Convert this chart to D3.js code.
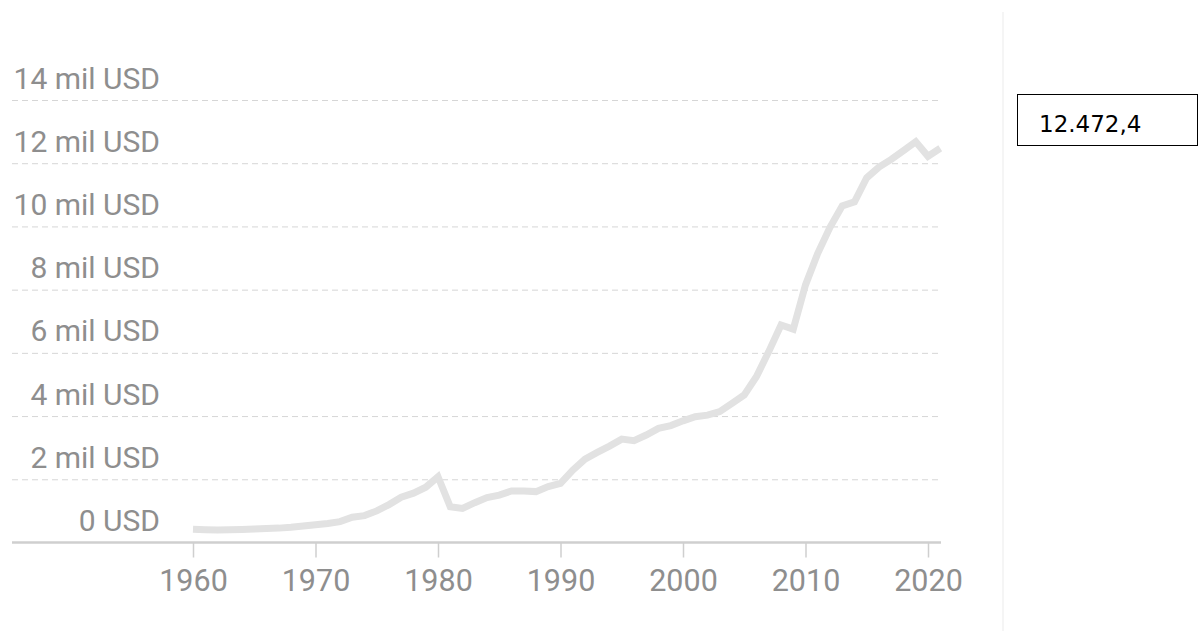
<!DOCTYPE html>
<html>
<head>
<meta charset="utf-8">
<script src="https://cdn.jsdelivr.net/npm/d3@7"></script>
<style>
  html, body { margin: 0; padding: 0; background: #fff; }
  svg { display: block; }
  .axis text { font-family: Roboto, "Noto Sans", sans-serif; font-weight: 400; fill: #8e8e8e; }
</style>
</head>
<body>
<svg id="chart" width="1201" height="631"></svg>
<script>
// years and values (USD)
const years = d3.range(1960, 2022);
const values = [
  420, 405, 395, 400, 410, 427, 440, 455, 480, 520,
  563, 600, 660, 800, 850, 1000, 1200, 1430, 1560, 1750,
  2080, 1130, 1080, 1260, 1420, 1500, 1630, 1630, 1610, 1770,
  1870, 2290, 2640, 2850, 3050, 3270, 3220, 3400, 3610, 3700,
  3850, 3980, 4030, 4140, 4400, 4670, 5250, 6040, 6880, 6750,
  8150, 9150, 9970, 10650, 10780, 11540, 11880, 12120, 12400, 12680,
  12220, 12472.4
];
const yTicks = [0, 2000, 4000, 6000, 8000, 10000, 12000, 14000];
const xTicks = [1960, 1970, 1980, 1990, 2000, 2010, 2020];
const latestLabel = "12.472,4";

const svg = d3.select('#chart');

const left = 12, right = 941;
let x = d3.scaleLinear().domain([1960, 2020]).range([193, 928]),
    y = d3.scaleLinear().domain([0, 14000]).range([542.5, 100]);

// y axis: dashed gridlines, labels sitting above each line
let yAxis = d3.axisLeft(y)
    .tickValues(yTicks)
    .tickSize(-(right - left))
    .tickFormat(d => d === 0 ? '0 USD' : (d / 1000) + ' mil USD');

let gy = svg.append('g')
    .attr('class', 'axis y')
    .attr('transform', `translate(${left},0)`)
    .call(yAxis);
gy.select('.domain').remove();
gy.selectAll('.tick line')
    .attr('stroke', '#d6d6d6')
    .attr('stroke-width', 1)
    .attr('stroke-dasharray', '6,4')
    .filter(d => d === 0).remove();
gy.selectAll('.tick text')
    .attr('x', 148)
    .attr('y', -12)
    .attr('dy', 0)
    .attr('text-anchor', 'end')
    .style('font-size', '30px');

// x axis
let xAxis = d3.axisBottom(x)
    .tickValues(xTicks)
    .tickSize(15)
    .tickFormat(d => d);

let gx = svg.append('g')
    .attr('class', 'axis x')
    .attr('transform', `translate(0,${y(0)})`)
    .call(xAxis);
gx.select('.domain').remove();
gx.selectAll('.tick line').attr('stroke', '#cfcfcf').attr('stroke-width', 1.5);
gx.selectAll('.tick text')
    .attr('y', 48)
    .attr('dy', 0)
    .style('font-size', '30.5px');

svg.append('line')
    .attr('x1', left).attr('x2', right)
    .attr('y1', y(0)).attr('y2', y(0))
    .attr('stroke', '#cfcfcf')
    .attr('stroke-width', 2.5);

// the series
let line = d3.line()
    .x((d, i) => x(years[i]))
    .y(d => y(d));

svg.append('path')
    .datum(values)
    .attr('d', line)
    .attr('fill', 'none')
    .attr('stroke', '#e2e2e2')
    .attr('stroke-width', 7)
    .attr('stroke-linejoin', 'miter');

// separator + latest value box
svg.append('line')
    .attr('x1', 1003).attr('x2', 1003)
    .attr('y1', 12).attr('y2', 631)
    .attr('stroke', '#f2f2f2')
    .attr('stroke-width', 1.5);

svg.append('rect')
    .attr('x', 1017.5).attr('y', 94.5)
    .attr('width', 180).attr('height', 51)
    .attr('fill', '#fff')
    .attr('stroke', '#000')
    .attr('stroke-width', 1);

svg.append('text')
    .attr('x', 1039).attr('y', 132)
    .style('font-family', '"DejaVu Sans", Verdana, sans-serif')
    .style('font-size', '23px')
    .attr('fill', '#000')
    .text(latestLabel);
</script>
</body>
</html>
